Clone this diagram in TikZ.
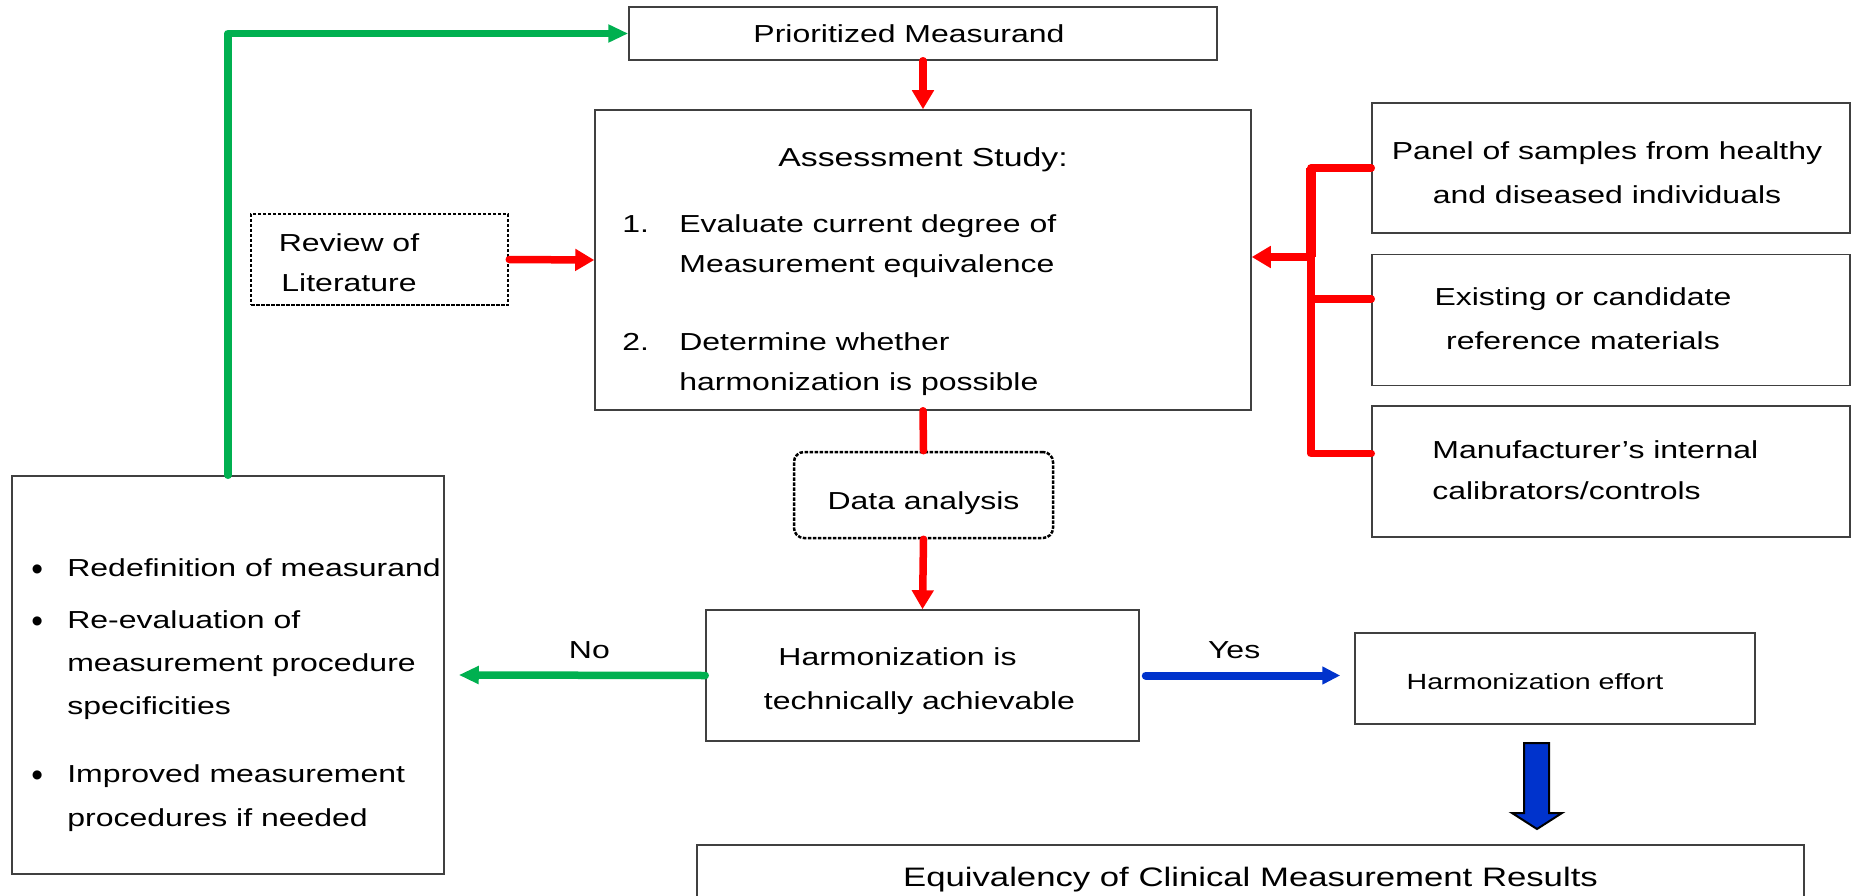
\documentclass[tikz,border=0pt]{standalone}
\usepackage{fontspec}
\setmainfont{Liberation Sans}[FakeStretch=1.3]
\newfontfamily\dotfont{Liberation Sans}
\usetikzlibrary{arrows.meta, positioning}
\definecolor{harmRed}{HTML}{FF0000}
\definecolor{harmGreen}{HTML}{00B050}
\definecolor{harmBlue}{HTML}{0033CC}
\definecolor{boxLine}{HTML}{404040}
\newcommand{\bigbullet}{\raisebox{-0.7mm}{\dotfont\fontsize{19}{19}\selectfont\textbullet}}
\tikzset{
  arrowR/.style={-{Triangle[length=3.8mm, width=4.2mm]}, harmRed, line width=1.5mm, line cap=round},
  lineR/.style={harmRed, line width=1.5mm, line cap=round, line join=round},
  arrowG/.style={-{Triangle[length=4mm, width=3.4mm]}, harmGreen, line width=1.5mm,
                 line cap=round, line join=round},
  arrowB/.style={-{Triangle[length=3.6mm, width=3.4mm]}, harmBlue, line width=1.6mm, line cap=round},
  boxW/.style={rectangle, draw=boxLine, line width=0.3mm, fill=white, align=center, inner sep=0pt},
  boxD/.style={rectangle, draw=black, line width=0.5mm, dash pattern=on 0.7mm off 0.3mm,
               align=center, inner sep=0pt},
  boxRD/.style={boxD, rounded corners=2mm},
  txt/.style={inner sep=0pt, align=center},
  lbl/.style={inner sep=0pt, text=black},
  blockA/.style={draw=black, line width=0.4mm, fill=harmBlue, line join=miter},
}
\begin{document}
\begin{tikzpicture}[x=0.2mm, y=-0.2mm, font=\fontsize{14}{24.5}\selectfont]
  \useasboundingbox (0,0) rectangle (1851,896);
  % medida priorizada
  \node[boxW, minimum width=117.6mm, minimum height=10.6mm] (prio) at (923,33.5) {};
  \node[txt] (prioTxt) at (909,34) {Prioritized Measurand};
  % estudio de evaluacion
  \node[boxW, minimum width=131.2mm, minimum height=60mm] (assess) at (923,260) {};
  \node[txt, font=\fontsize{14.8}{18}\selectfont] (assessHead) at (923,160) {Assessment Study:};
  \node[txt, align=left, anchor=west, font=\fontsize{14}{22.8}\selectfont] (assessList) at (622,305)
    {\makebox[11.4mm][l]{1.}Evaluate current degree of\\
     \hspace*{11.4mm}Measurement equivalence\\[7.6mm]
     \makebox[11.4mm][l]{2.}Determine whether\\
     \hspace*{11.4mm}harmonization is possible};
  % revision de literatura
  \node[boxD, minimum width=51.4mm, minimum height=18.2mm] (review) at (379.5,259.5) {};
  \node[txt, font=\fontsize{14}{22.8}\selectfont] (reviewTxt) at (349,263) {Review of\\Literature};
  % materiales
  \node[boxW, minimum width=95.6mm, minimum height=26mm] (panel) at (1611,168) {};
  \node[txt, font=\fontsize{14}{25}\selectfont] (panelTxt) at (1607,173)
    {Panel of samples from healthy\\and diseased individuals};
  \node[boxW, minimum width=95.6mm, minimum height=26.2mm, below=4mm of panel] (exist) {};
  \node[txt, font=\fontsize{14}{25}\selectfont] (existTxt) at (1583,319) {Existing or candidate\\reference materials};
  \node[boxW, minimum width=95.6mm, minimum height=26.2mm, below=3.8mm of exist] (manuf) {};
  \node[txt, align=left, anchor=west, font=\fontsize{14}{23.5}\selectfont]
    (manufTxt) at (1432,470) {Manufacturer’s internal\\calibrators/controls};
  % analisis de datos
  \node[boxRD, minimum width=51.8mm, minimum height=17.2mm] (data) at (923.5,495) {};
  \node[txt] (dataTxt) at (923.5,503) {Data analysis};
  % decision
  \node[boxW, minimum width=86.6mm, minimum height=26.2mm] (harm) at (922.5,675.5) {};
  \node[txt, font=\fontsize{14}{25}\selectfont] (harmTxt) at (919.5,681)
    {Harmonization is\hspace*{8.8mm}\\technically achievable};
  \node[boxW, minimum width=80mm, minimum height=18.2mm] (effort) at (1555,678.5) {};
  \node[txt, font=\fontsize{12.5}{15}\selectfont] (effortTxt) at (1535,682) {Harmonization effort};
  % resultado
  \node[boxW, minimum width=221.4mm, minimum height=14mm, font=\fontsize{15.2}{19}\selectfont]
    (result) at (1250.5,880) {Equivalency of Clinical Measurement Results};
  % acciones si no
  \node[boxW, minimum width=86.4mm, minimum height=79.6mm] (measures) at (228,675) {};
  \node[txt, align=left, anchor=west] (measuresTxt) at (31,695)
    {\makebox[7.2mm][l]{\bigbullet}Redefinition of measurand\\[1.8mm]
     \makebox[7.2mm][l]{\bigbullet}Re-evaluation of\\
     \hspace*{7.2mm}measurement procedure\\
     \hspace*{7.2mm}specificities\\[5mm]
     \makebox[7.2mm][l]{\bigbullet}Improved measurement\\
     \hspace*{7.2mm}procedures if needed};
  % flechas
  \draw[arrowG] (measures.north) |- (prio.west);
  \draw[arrowR] (prio.south) -- (assess.north);
  \draw[arrowR] (review.east) -- (assess.west);
  \coordinate (fork) at (1311,257);
  \coordinate (existIn) at ([yshift=4.2mm]exist.west);
  \draw[lineR] (panel.west) -| (fork) |- ([yshift=3.6mm]manuf.west);
  \draw[lineR, line width=1.9mm, line cap=butt] (fork |- panel.west) -- (fork);
  \draw[lineR] (existIn) -- (fork |- existIn);
  \draw[arrowR] (fork) -- (fork -| assess.east);
  \draw[lineR] (assess.south) -- (data.north);
  \draw[arrowR] (data.south) -- (harm.north);
  \coordinate (noEnd) at ([xshift=2.8mm]measures.east);
  \draw[arrowG] (harm.west) -- (noEnd) node[lbl, pos=0.47, above=2.6mm] (noLbl) {No};
  \draw[arrowB, shorten <=1.2mm, shorten >=2.8mm] (harm.east) -- (harm.east -| effort.west)
    node[lbl, pos=0.44, above=2.6mm] (yesLbl) {Yes};
  % flecha de bloque
  \draw[blockA] (1524,743) -- (1549,743) -- (1549,813) -- (1562,813) -- (1537,829)
    -- (1512,813) -- (1524,813) -- cycle;
\end{tikzpicture}
\end{document}
